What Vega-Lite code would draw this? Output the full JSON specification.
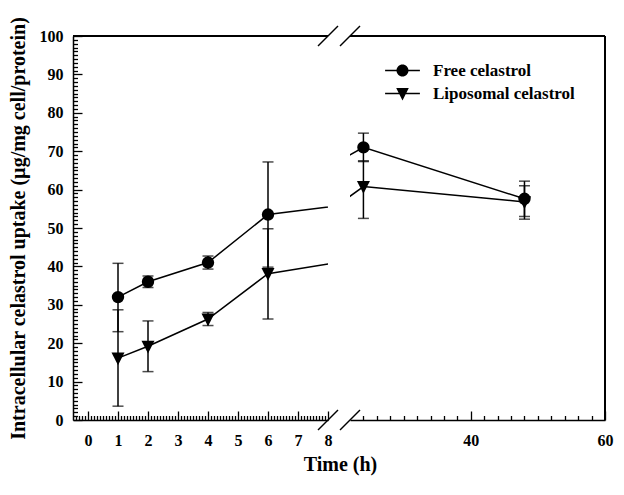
{
  "$schema": "https://vega.github.io/schema/vega-lite/v6.json",
  "padding": {"left": 7, "top": 16, "right": 5, "bottom": 5},
  "bounds": "flush",
  "spacing": 22,
  "datasets": {
    "uptake": [
      {"series": "Free celastrol", "time": 1, "mean": 32, "lo": 23, "hi": 40.8},
      {"series": "Free celastrol", "time": 2, "mean": 36, "lo": 34.5, "hi": 37.5},
      {"series": "Free celastrol", "time": 4, "mean": 41, "lo": 39.3, "hi": 42.7},
      {"series": "Free celastrol", "time": 6, "mean": 53.5, "lo": 39.8, "hi": 67.2},
      {"series": "Free celastrol", "time": 24, "mean": 71, "lo": 67.3, "hi": 74.7},
      {"series": "Free celastrol", "time": 48, "mean": 57.6, "lo": 53, "hi": 62.2},
      {"series": "Liposomal celastrol", "time": 1, "mean": 16.1, "lo": 3.6, "hi": 28.7},
      {"series": "Liposomal celastrol", "time": 2, "mean": 19.2, "lo": 12.6, "hi": 25.8},
      {"series": "Liposomal celastrol", "time": 4, "mean": 26.3, "lo": 24.6, "hi": 28},
      {"series": "Liposomal celastrol", "time": 6, "mean": 38.1, "lo": 26.3, "hi": 49.8},
      {"series": "Liposomal celastrol", "time": 24, "mean": 60.8, "lo": 52.5, "hi": 67.5},
      {"series": "Liposomal celastrol", "time": 48, "mean": 56.8, "lo": 52.3, "hi": 61}
    ],
    "edges": [{"edge": 0}, {"edge": 100}]
  },
  "config": {
    "view": {"stroke": null},
    "font": "Liberation Serif",
    "axis": {
      "labelFont": "Liberation Serif", "labelFontWeight": "bold", "labelFontSize": 16, "labelColor": "black",
      "titleFont": "Liberation Serif", "titleFontWeight": "bold", "titleFontSize": 20, "titleColor": "black",
      "domainColor": "black", "domainWidth": 1.5, "tickColor": "black", "tickWidth": 1.3,
      "grid": false, "labelOverlap": false, "labelBound": false, "labelFlush": false
    }
  },
  "resolve": {"scale": {"x": "independent", "shape": "independent"}, "legend": {"shape": "independent"}},
  "hconcat": [
    {
      "width": 255,
      "height": 384,
      "resolve": {"scale": {"x": "independent", "y": "independent"}, "axis": {"x": "independent", "y": "independent"}},
      "layer": [
        {
          "data": {"name": "uptake"},
          "layer": [
            {
              "mark": {"type": "line", "clip": true, "color": "black", "strokeWidth": 1.5},
              "encoding": {
                "x": {"field": "time", "type": "quantitative", "scale": {"domain": [-0.5, 8], "nice": false, "zero": false}, "axis": null},
                "y": {"field": "mean", "type": "quantitative", "scale": {"domain": [0, 100], "nice": false}, "axis": null},
                "detail": {"field": "series"}
              }
            },
            {
              "transform": [{"filter": "datum.time <= 8"}],
              "mark": {"type": "errorbar", "ticks": {"size": 11}, "thickness": 1.5, "color": "black"},
              "encoding": {
                "x": {"field": "time", "type": "quantitative", "axis": null},
                "y": {"field": "lo", "type": "quantitative", "axis": null},
                "y2": {"field": "hi"}
              }
            },
            {
              "transform": [{"filter": "datum.time <= 8"}],
              "mark": {"type": "point", "filled": true, "opacity": 1, "color": "black", "size": 154},
              "encoding": {
                "x": {"field": "time", "type": "quantitative", "axis": null},
                "y": {"field": "mean", "type": "quantitative", "axis": null},
                "shape": {"condition": {"test": "datum.series === 'Free celastrol'", "value": "circle"}, "value": "M-1.05,-0.9L1.05,-0.9L0,1.15Z"}
              }
            },
            {
              "mark": {"type": "rule", "color": "black", "strokeWidth": 1.5},
              "encoding": {"y": {"datum": 100, "type": "quantitative", "axis": null}}
            },
            {
              "data": {"name": "edges"},
              "mark": {"type": "point", "shape": "M-1,1L1,-1", "size": 400, "filled": false, "stroke": "black", "strokeWidth": 1.5, "opacity": 1},
              "encoding": {
                "x": {"datum": 8, "type": "quantitative", "axis": null},
                "y": {"field": "edge", "type": "quantitative", "axis": null}
              }
            }
          ]
        },
        {
          "data": {"name": "uptake"},
          "transform": [{"filter": "false"}],
          "mark": "point",
          "encoding": {
            "x": {
              "field": "time", "type": "quantitative",
              "scale": {"domain": [-0.5, 8], "nice": false, "zero": false},
              "axis": {
                "orient": "bottom",
                "values": [0, 1, 2, 3, 4, 5, 6, 7, 8],
                "tickSize": -9,
                "labelPadding": 21,
                "title": "Time (h)",
                "titleX": 267,
                "titleY": 34,
                "titleAlign": "center",
                "titleBaseline": "top"
              }
            },
            "y": {
              "field": "mean", "type": "quantitative",
              "scale": {"domain": [0, 100], "nice": false},
              "axis": {
                "orient": "left",
                "values": [0, 10, 20, 30, 40, 50, 60, 70, 80, 90, 100],
                "tickSize": -9,
                "labelPadding": 19,
                "title": "Intracellular celastrol uptake (µg/mg cell/protein)",
                "titleX": -55,
                "titleY": 192,
                "titleAngle": -90,
                "titleAlign": "center",
                "titleBaseline": "middle"
              }
            }
          }
        },
        {
          "data": {"name": "uptake"},
          "transform": [{"filter": "false"}],
          "mark": "point",
          "encoding": {
            "x": {
              "field": "time", "type": "quantitative",
              "scale": {"domain": [-0.5, 8], "nice": false, "zero": false},
              "axis": {
                "orient": "bottom",
                "values": [-0.4,-0.3,-0.2,-0.1,0.1,0.2,0.3,0.4,0.5,0.6,0.7,0.8,0.9,1.1,1.2,1.3,1.4,1.5,1.6,1.7,1.8,1.9,2.1,2.2,2.3,2.4,2.5,2.6,2.7,2.8,2.9,3.1,3.2,3.3,3.4,3.5,3.6,3.7,3.8,3.9,4.1,4.2,4.3,4.4,4.5,4.6,4.7,4.8,4.9,5.1,5.2,5.3,5.4,5.5,5.6,5.7,5.8,5.9,6.1,6.2,6.3,6.4,6.5,6.6,6.7,6.8,6.9,7.1,7.2,7.3,7.4,7.5,7.6,7.7,7.8,7.9],
                "tickSize": -4.5,
                "labels": false,
                "domain": false,
                "title": null
              }
            },
            "y": {
              "field": "mean", "type": "quantitative",
              "scale": {"domain": [0, 100], "nice": false},
              "axis": {
                "orient": "left",
                "values": [1,2,3,4,5,6,7,8,9,11,12,13,14,15,16,17,18,19,21,22,23,24,25,26,27,28,29,31,32,33,34,35,36,37,38,39,41,42,43,44,45,46,47,48,49,51,52,53,54,55,56,57,58,59,61,62,63,64,65,66,67,68,69,71,72,73,74,75,76,77,78,79,81,82,83,84,85,86,87,88,89,91,92,93,94,95,96,97,98,99],
                "tickSize": -4.5,
                "labels": false,
                "domain": false,
                "title": null
              }
            }
          }
        }
      ]
    },
    {
      "width": 255,
      "height": 384,
      "resolve": {"scale": {"x": "independent"}, "axis": {"x": "independent"}},
      "layer": [
        {
          "data": {"name": "uptake"},
          "layer": [
            {
              "mark": {"type": "line", "clip": true, "color": "black", "strokeWidth": 1.5},
              "encoding": {
                "x": {"field": "time", "type": "quantitative", "scale": {"domain": [22, 60], "nice": false, "zero": false}, "axis": null},
                "y": {"field": "mean", "type": "quantitative", "scale": {"domain": [0, 100], "nice": false}, "axis": null},
                "detail": {"field": "series"}
              }
            },
            {
              "transform": [{"filter": "datum.time >= 22"}],
              "mark": {"type": "errorbar", "ticks": {"size": 11}, "thickness": 1.5, "color": "black"},
              "encoding": {
                "x": {"field": "time", "type": "quantitative", "axis": null},
                "y": {"field": "lo", "type": "quantitative", "axis": null},
                "y2": {"field": "hi"}
              }
            },
            {
              "transform": [{"filter": "datum.time >= 22"}],
              "mark": {"type": "point", "filled": true, "opacity": 1, "color": "black", "size": 154},
              "encoding": {
                "x": {"field": "time", "type": "quantitative", "axis": null},
                "y": {"field": "mean", "type": "quantitative", "axis": null},
                "shape": {"condition": {"test": "datum.series === 'Free celastrol'", "value": "circle"}, "value": "M-1.05,-0.9L1.05,-0.9L0,1.15Z"}
              }
            },
            {
              "transform": [{"filter": "false"}],
              "mark": {"type": "point", "filled": true, "color": "black", "opacity": 1, "size": 144},
              "encoding": {
                "x": {"field": "time", "type": "quantitative", "axis": null},
                "y": {"field": "mean", "type": "quantitative", "axis": null},
                "shape": {
                  "field": "series", "type": "nominal",
                  "scale": {"domain": ["Free celastrol", "Liposomal celastrol"], "range": ["M-2.9,-0.12L2.9,-0.12L2.9,0.12L-2.9,0.12ZM1,0A1,1,0,1,1,-1,0A1,1,0,1,1,1,0Z", "M-2.9,-0.12L2.9,-0.12L2.9,0.12L-2.9,0.12ZM-1.05,-0.9L1.05,-0.9L0,1.15Z"]},
                  "legend": {
                    "title": null,
                    "orient": "none",
                    "legendX": 44,
                    "legendY": 26,
                    "labelFont": "Liberation Serif",
                    "labelFontSize": 17,
                    "labelFontWeight": "bold",
                    "labelColor": "black",
                    "symbolSize": 144,
                    "labelOffset": 22,
                    "rowPadding": 4,
                    "symbolFillColor": "black",
                    "symbolOpacity": 1
                  }
                }
              }
            },
            {
              "mark": {"type": "rule", "color": "black", "strokeWidth": 1.5},
              "encoding": {"y": {"datum": 100, "type": "quantitative", "axis": null}}
            },
            {
              "mark": {"type": "rule", "color": "black", "strokeWidth": 1.5},
              "encoding": {"x": {"datum": 60, "type": "quantitative", "axis": null}}
            },
            {
              "data": {"name": "edges"},
              "mark": {"type": "point", "shape": "M-1,1L1,-1", "size": 400, "filled": false, "stroke": "black", "strokeWidth": 1.5, "opacity": 1},
              "encoding": {
                "x": {"datum": 22, "type": "quantitative", "axis": null},
                "y": {"field": "edge", "type": "quantitative", "axis": null}
              }
            }
          ]
        },
        {
          "data": {"name": "uptake"},
          "transform": [{"filter": "false"}],
          "mark": "point",
          "encoding": {
            "x": {
              "field": "time", "type": "quantitative",
              "scale": {"domain": [22, 60], "nice": false, "zero": false},
              "axis": {
                "orient": "bottom",
                "values": [40, 60],
                "tickSize": -9,
                "labelPadding": 21,
                "title": null
              }
            }
          }
        },
        {
          "data": {"name": "uptake"},
          "transform": [{"filter": "false"}],
          "mark": "point",
          "encoding": {
            "x": {
              "field": "time", "type": "quantitative",
              "scale": {"domain": [22, 60], "nice": false, "zero": false},
              "axis": {
                "orient": "bottom",
                "values": [24,26,28,30,32,34,36,38,42,44,46,48,50,52,54,56,58],
                "tickSize": -4.5,
                "labels": false,
                "domain": false,
                "title": null
              }
            }
          }
        }
      ]
    }
  ]
}
